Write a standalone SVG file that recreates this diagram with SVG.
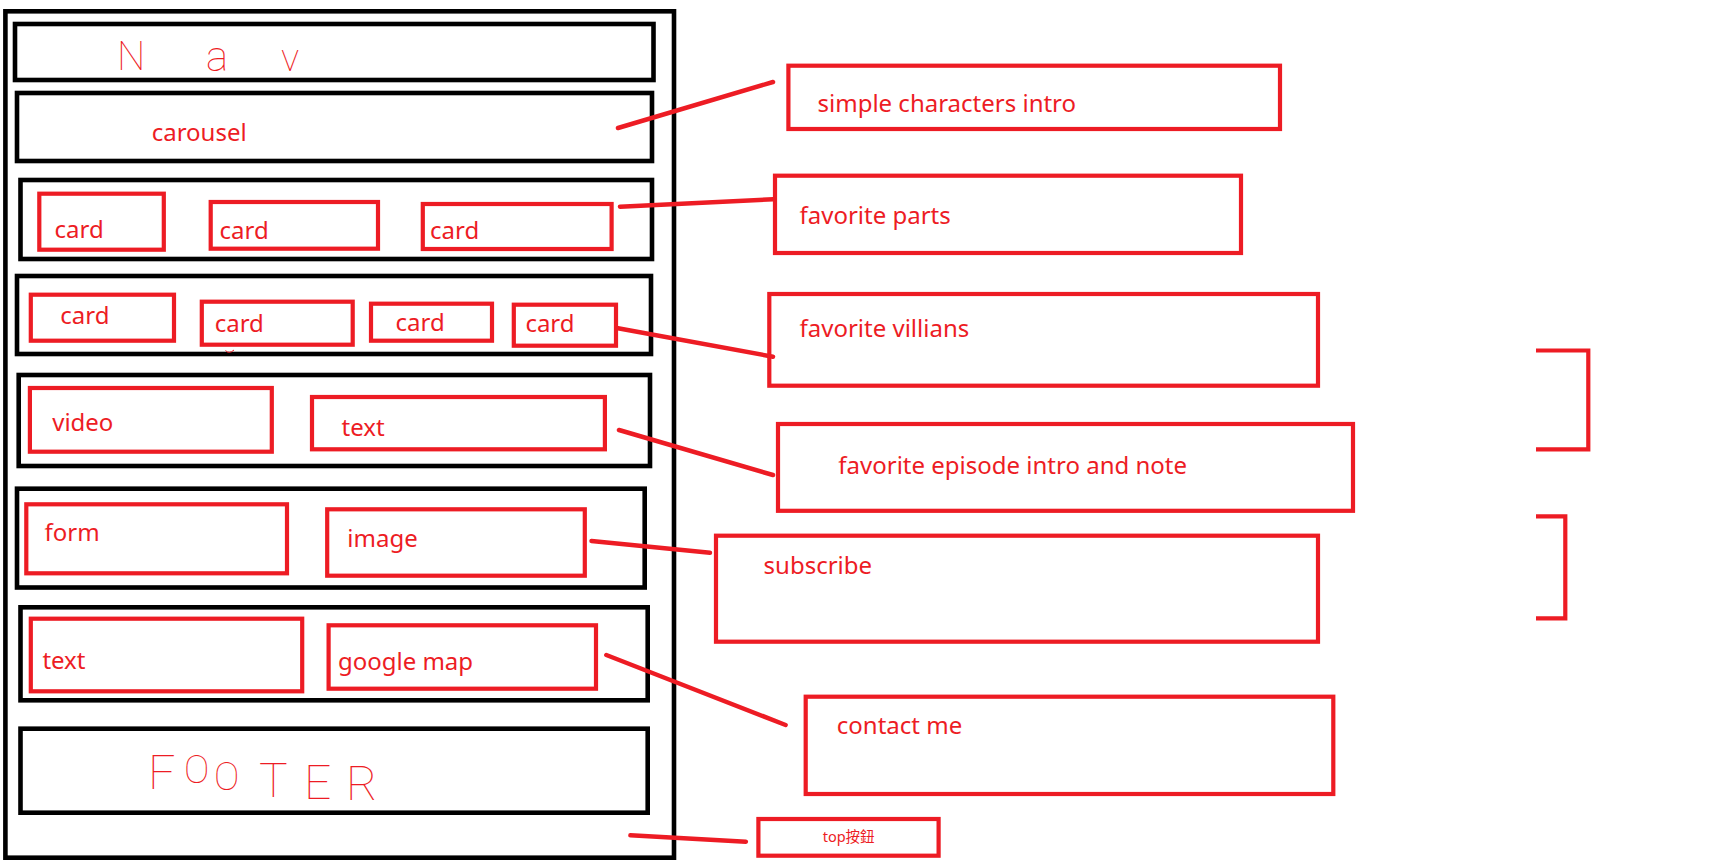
<svg xmlns="http://www.w3.org/2000/svg" width="1718" height="866" viewBox="0 0 1718 866">
<defs>
<style>
.blk{fill:none;stroke:#000;stroke-width:4.6}
.red{fill:none;stroke:#ED1C24;stroke-width:4.2}
.lbl{font-family:"Noto Sans","Open Sans","Liberation Sans",sans-serif;font-size:24px;fill:#ED1C24}
.small{font-family:"Noto Sans","Noto Sans CJK TC","Liberation Sans",sans-serif;font-size:14.5px;fill:#ED1C24}
.hand{font-family:Roboto,"Liberation Sans",sans-serif;font-weight:100;fill:#ED1C24}
.con{fill:none;stroke:#ED1C24;stroke-width:4.5;stroke-linecap:round}
</style>
</defs>
<rect width="1718" height="866" fill="#fff"/>
<g id="page">
<rect class="blk" x="5.4" y="11.3" width="668.6" height="846.4"/>
</g>
<g id="nav">
<rect class="blk" x="15" y="24" width="638.5" height="56"/>
<text class="hand" x="117 206 281" y="70 71 71" font-size="38"><tspan font-size="40">N</tspan><tspan font-size="42">a</tspan>v</text>
</g>
<g id="carousel">
<rect class="blk" x="17" y="93" width="635" height="68"/>
<text class="lbl" x="151.7" y="141">carousel</text>
</g>
<g id="row-cards-3">
<rect class="blk" x="20.5" y="180" width="631.5" height="79"/>
<g id="card1"><rect class="red" x="39.3" y="193.7" width="124.5" height="56"/><text class="lbl" x="54.5" y="238">card</text></g>
<g id="card2"><rect class="red" x="210.7" y="202" width="167.3" height="46.7"/><text class="lbl" x="219.6" y="239.3">card</text></g>
<g id="card3"><rect class="red" x="422.8" y="204" width="188.8" height="45"/><text class="lbl" x="430" y="239.3">card</text></g>
</g>
<g id="row-cards-4">
<rect class="blk" x="17" y="276" width="634" height="78"/>
<g id="card4"><rect class="red" x="30.8" y="294.7" width="143.2" height="46"/><text class="lbl" x="60.3" y="324.3">card</text></g>
<g id="card5"><rect class="red" x="201.8" y="301.7" width="150.9" height="43"/><text class="lbl" x="214.7" y="331.7">card</text></g>
<g id="card6"><rect class="red" x="371" y="303.7" width="121" height="37"/><text class="lbl" x="395.5" y="330.7">card</text></g>
<g id="card7"><rect class="red" x="513.8" y="304.7" width="102.2" height="41"/><text class="lbl" x="525.4" y="332.3">card</text></g>
<path d="M225.5,350.5 Q229,354.5 234,350" fill="none" stroke="#ED1C24" stroke-width="1"/>
</g>
<g id="row-video">
<rect class="blk" x="18.7" y="375" width="631.3" height="91"/>
<g id="video"><rect class="red" x="29.9" y="388" width="241.9" height="63.7"/><text class="lbl" x="52.2" y="430.7">video</text></g>
<g id="text1"><rect class="red" x="312" y="397" width="292.9" height="52.3"/><text class="lbl" x="341.5" y="435.7">text</text></g>
</g>
<g id="row-form">
<rect class="blk" x="17" y="488.7" width="627.7" height="98.8"/>
<g id="form"><rect class="red" x="26.3" y="504.3" width="260.7" height="69"/><text class="lbl" x="44.6" y="540.7">form</text></g>
<g id="image"><rect class="red" x="327.2" y="509.3" width="257.6" height="66.4"/><text class="lbl" x="347.3" y="546.7">image</text></g>
</g>
<g id="row-map">
<rect class="blk" x="20.5" y="607.3" width="627.2" height="93"/>
<g id="text2"><rect class="red" x="30.8" y="618.7" width="271.4" height="72.6"/><text class="lbl" x="42.4" y="669.3">text</text></g>
<g id="gmap"><rect class="red" x="328.6" y="625.3" width="267.4" height="63.4"/><text class="lbl" x="337.9" y="670">google map</text></g>
</g>
<g id="footer">
<rect class="blk" x="20.5" y="728.7" width="627.2" height="84"/>
<text class="hand" x="148 184 214 259 304 346" y="789 783 790 797 799 800" font-size="48">F<tspan font-size="38">OO</tspan>TER</text>
</g>
<g id="n-intro"><rect class="red" x="788.4" y="65.7" width="491.6" height="63.3"/><text class="lbl" x="817.5" y="111.7">simple characters intro</text></g>
<g id="n-parts"><rect class="red" x="775" y="175.7" width="466" height="77.3"/><text class="lbl" x="799.5" y="224">favorite parts</text></g>
<g id="n-villians"><rect class="red" x="769.3" y="294" width="548.7" height="91.7"/><text class="lbl" x="799.5" y="337.3">favorite villians</text></g>
<g id="n-episode"><rect class="red" x="778" y="424" width="575" height="86.8"/><text class="lbl" x="838.3" y="474">favorite episode intro and note</text></g>
<g id="n-subscribe"><rect class="red" x="716" y="535.7" width="602" height="106"/><text class="lbl" x="763.6" y="574.3">subscribe</text></g>
<g id="n-contact"><rect class="red" x="805.7" y="696.7" width="527.6" height="97.3"/><text class="lbl" x="836.8" y="734">contact me</text></g>
<g id="n-top"><rect class="red" x="758.4" y="819" width="180.2" height="36.7"/><text class="small" x="822.7" y="842.3">top按鈕</text></g>
<g id="brackets">
<path d="M1536,350.5 H1588.3 V449.3 H1536" class="red" stroke-width="4.5"/>
<path d="M1536,516.3 H1565.3 V618.3 H1536" class="red" stroke-width="4.5"/>
</g>
<g id="connectors">
<line class="con" x1="618" y1="128" x2="773" y2="82"/>
<line class="con" x1="620" y1="206.7" x2="773" y2="199.3"/>
<line class="con" x1="618" y1="328.3" x2="773" y2="356.7"/>
<line class="con" x1="619" y1="430" x2="773" y2="475"/>
<line class="con" x1="591.5" y1="541" x2="710" y2="552.7"/>
<line class="con" x1="606.3" y1="655" x2="785.6" y2="725"/>
<line class="con" x1="630.4" y1="835.3" x2="745.9" y2="841.7"/>
</g>
</svg>
